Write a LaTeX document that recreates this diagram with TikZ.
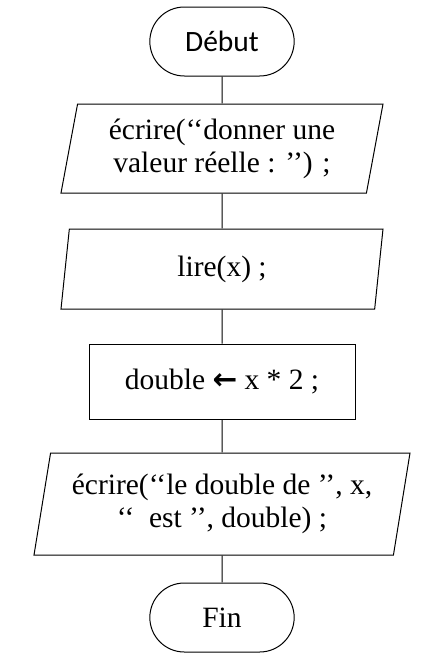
\documentclass[tikz,border=0pt]{standalone}
\usepackage{fontspec}
\setmainfont{Liberation Serif}
\newfontfamily\labelfont{Carlito}
\newfontfamily\arrowfont{DejaVu Sans}
\usetikzlibrary{shapes.geometric,shapes.misc}
\begin{document}
\begin{tikzpicture}[x=1pt,y=-1pt,
  term/.style={draw, rounded rectangle, minimum width=151pt, minimum height=69pt, font=\labelfont\fontsize{29.5}{33}\selectfont},
  io/.style={draw, trapezium, trapezium left angle=76, trapezium right angle=104, trapezium stretches body, align=center, inner xsep=0pt, font=\fontsize{29.5}{33}\selectfont},
  proc/.style={draw, rectangle, align=center, font=\fontsize{29.5}{33}\selectfont},
  every node/.append style={line width=1pt},
  line width=1pt]
\useasboundingbox (0,0) rectangle (436,656);
\node[term] (debut) at (222,41.5) {Début};
\node[io, minimum width=322pt, minimum height=89pt] (ecrire1) at (222,148.5) {écrire(‘{}‘donner une\\valeur réelle : ’{}’) ;};
\node[io, minimum width=322pt, minimum height=80pt] (lire) at (222,269) {lire(x) ;};
\node[proc, minimum width=266pt, minimum height=75pt] (calcul) at (222,381.5) {double {\arrowfont\bfseries ←} x * 2 ;};
\node[io, minimum width=376pt, minimum height=102pt] (ecrire2) at (222,504) {écrire(‘{}‘le double de ’{}’, x,\\‘{}‘\ \ est ’{}’, double) ;};
\node[term] (fin) at (222,617.5) {\rmfamily Fin};
\draw (debut) -- (ecrire1);
\draw (ecrire1) -- (lire);
\draw (lire) -- (calcul);
\draw (calcul) -- (ecrire2);
\draw (ecrire2) -- (fin);
\end{tikzpicture}
\end{document}
